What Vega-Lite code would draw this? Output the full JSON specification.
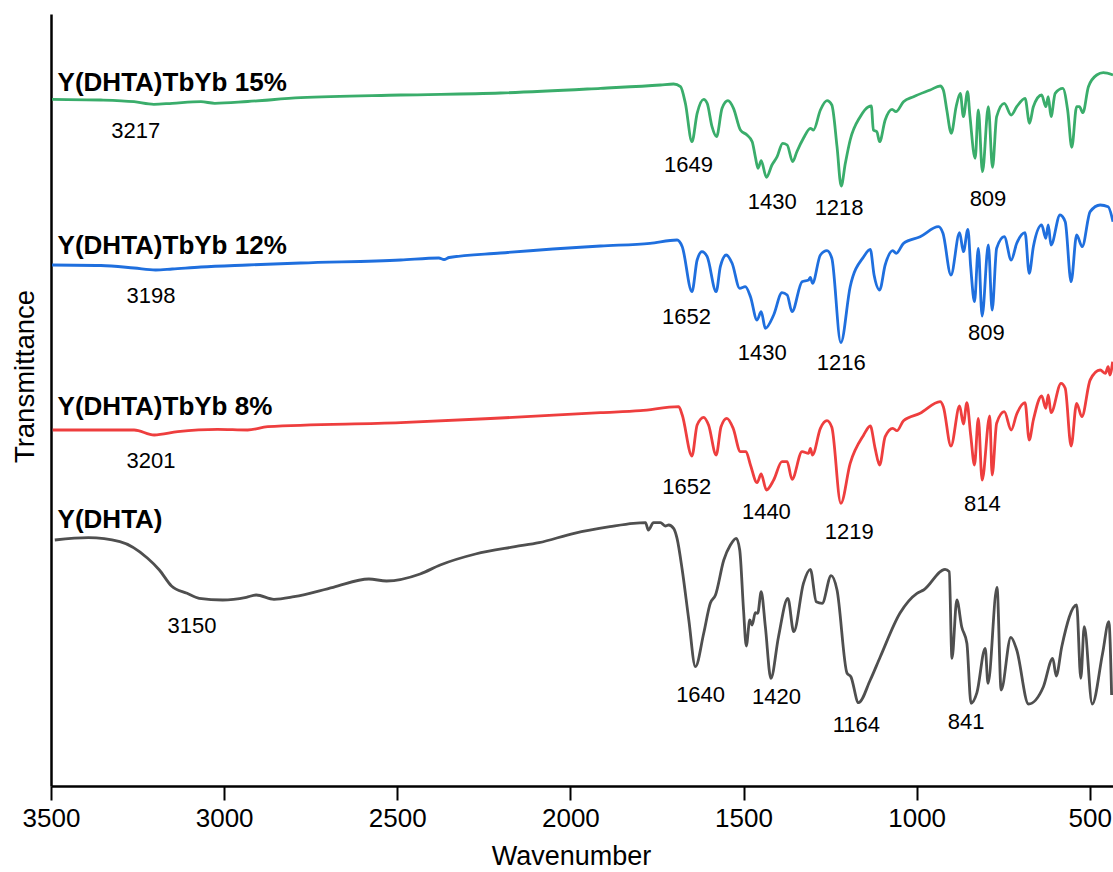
{
  "$schema": "https://vega.github.io/schema/vega-lite/v6.json",
  "width": 1062,
  "height": 772,
  "autosize": "none",
  "padding": {"left": 51, "top": 14, "right": 0, "bottom": 86},
  "background": "white",
  "config": {
    "font": "Liberation Sans",
    "view": {"stroke": null}
  },
  "datasets": {
    "spectra": [
      {"series":"15%","wn":3497,"t":685.7},{"series":"15%","wn":3356,"t":685},{"series":"15%","wn":3260,"t":683.3},{"series":"15%","wn":3203,"t":680.7},{"series":"15%","wn":3150,"t":681.7},{"series":"15%","wn":3067,"t":683.3},{"series":"15%","wn":3027,"t":681.7},{"series":"15%","wn":2932,"t":683.5},{"series":"15%","wn":2779,"t":687.3},{"series":"15%","wn":2490,"t":690},{"series":"15%","wn":2202,"t":692},{"series":"15%","wn":1913,"t":696.7},{"series":"15%","wn":1740,"t":700},{"series":"15%","wn":1702,"t":701},{"series":"15%","wn":1682,"t":698.3},{"series":"15%","wn":1668,"t":681.7},{"series":"15%","wn":1649,"t":643.3},{"series":"15%","wn":1634,"t":671.7},{"series":"15%","wn":1615,"t":685.7},{"series":"15%","wn":1605,"t":681.7},{"series":"15%","wn":1591,"t":658.3},{"series":"15%","wn":1578,"t":648.3},{"series":"15%","wn":1562,"t":676.7},{"series":"15%","wn":1545,"t":684.3},{"series":"15%","wn":1529,"t":676.7},{"series":"15%","wn":1509,"t":655},{"series":"15%","wn":1490,"t":650},{"series":"15%","wn":1475,"t":643.3},{"series":"15%","wn":1466,"t":628.3},{"series":"15%","wn":1458,"t":616.7},{"series":"15%","wn":1449,"t":624.3},{"series":"15%","wn":1434,"t":607.7},{"series":"15%","wn":1418,"t":620},{"series":"15%","wn":1403,"t":628.3},{"series":"15%","wn":1387,"t":641.7},{"series":"15%","wn":1374,"t":640},{"series":"15%","wn":1358,"t":623.3},{"series":"15%","wn":1346,"t":633.3},{"series":"15%","wn":1327,"t":646.7},{"series":"15%","wn":1307,"t":656.7},{"series":"15%","wn":1298,"t":655},{"series":"15%","wn":1278,"t":675},{"series":"15%","wn":1259,"t":684.3},{"series":"15%","wn":1245,"t":680},{"series":"15%","wn":1230,"t":638.3},{"series":"15%","wn":1218,"t":599},{"series":"15%","wn":1206,"t":621.7},{"series":"15%","wn":1192,"t":645},{"series":"15%","wn":1163,"t":668.3},{"series":"15%","wn":1139,"t":678.3},{"series":"15%","wn":1131,"t":679},{"series":"15%","wn":1125,"t":655},{"series":"15%","wn":1115,"t":653.3},{"series":"15%","wn":1107,"t":643.3},{"series":"15%","wn":1091,"t":665},{"series":"15%","wn":1071,"t":675.7},{"series":"15%","wn":1060,"t":673.3},{"series":"15%","wn":1038,"t":683.3},{"series":"15%","wn":1009,"t":688.3},{"series":"15%","wn":961,"t":695},{"series":"15%","wn":932,"t":699},{"series":"15%","wn":923,"t":695},{"series":"15%","wn":913,"t":675},{"series":"15%","wn":900,"t":651.7},{"series":"15%","wn":886,"t":678.3},{"series":"15%","wn":874,"t":691.7},{"series":"15%","wn":865,"t":668.3},{"series":"15%","wn":853,"t":693.3},{"series":"15%","wn":846,"t":668.3},{"series":"15%","wn":831,"t":626.7},{"series":"15%","wn":822,"t":675},{"series":"15%","wn":810,"t":613.3},{"series":"15%","wn":793,"t":678.3},{"series":"15%","wn":781,"t":617.7},{"series":"15%","wn":769,"t":668.3},{"series":"15%","wn":747,"t":681.7},{"series":"15%","wn":727,"t":670},{"series":"15%","wn":711,"t":678.3},{"series":"15%","wn":687,"t":686.7},{"series":"15%","wn":674,"t":661.7},{"series":"15%","wn":663,"t":678.3},{"series":"15%","wn":639,"t":690},{"series":"15%","wn":627,"t":678.3},{"series":"15%","wn":620,"t":688.3},{"series":"15%","wn":612,"t":668.3},{"series":"15%","wn":600,"t":691.7},{"series":"15%","wn":578,"t":696.7},{"series":"15%","wn":564,"t":675},{"series":"15%","wn":552,"t":637.7},{"series":"15%","wn":538,"t":678.3},{"series":"15%","wn":530,"t":678.3},{"series":"15%","wn":520,"t":672.3},{"series":"15%","wn":504,"t":698.3},{"series":"15%","wn":480,"t":710},{"series":"15%","wn":461,"t":712.3},{"series":"15%","wn":433,"t":710},

      {"series":"12%","wn":3497,"t":520},{"series":"12%","wn":3356,"t":519.5},{"series":"12%","wn":3260,"t":517},{"series":"12%","wn":3198,"t":515},{"series":"12%","wn":3150,"t":516},{"series":"12%","wn":3067,"t":518},{"series":"12%","wn":2932,"t":520},{"series":"12%","wn":2779,"t":522},{"series":"12%","wn":2490,"t":525},{"series":"12%","wn":2380,"t":527},{"series":"12%","wn":2365,"t":525.5},{"series":"12%","wn":2350,"t":527.5},{"series":"12%","wn":2202,"t":532},{"series":"12%","wn":1913,"t":539},{"series":"12%","wn":1770,"t":541.7},{"series":"12%","wn":1692,"t":545},{"series":"12%","wn":1677,"t":538.3},{"series":"12%","wn":1649,"t":493.3},{"series":"12%","wn":1634,"t":525},{"series":"12%","wn":1620,"t":533.3},{"series":"12%","wn":1605,"t":528.3},{"series":"12%","wn":1579,"t":493.3},{"series":"12%","wn":1567,"t":518.3},{"series":"12%","wn":1550,"t":530},{"series":"12%","wn":1533,"t":521.7},{"series":"12%","wn":1511,"t":496.7},{"series":"12%","wn":1495,"t":498.3},{"series":"12%","wn":1480,"t":488.3},{"series":"12%","wn":1461,"t":465},{"series":"12%","wn":1449,"t":473.3},{"series":"12%","wn":1437,"t":456.7},{"series":"12%","wn":1413,"t":470},{"series":"12%","wn":1389,"t":492.3},{"series":"12%","wn":1374,"t":490},{"series":"12%","wn":1360,"t":473.3},{"series":"12%","wn":1331,"t":503.3},{"series":"12%","wn":1312,"t":505},{"series":"12%","wn":1307,"t":507.7},{"series":"12%","wn":1301,"t":501.7},{"series":"12%","wn":1278,"t":530},{"series":"12%","wn":1259,"t":534.3},{"series":"12%","wn":1245,"t":526.7},{"series":"12%","wn":1219,"t":442.3},{"series":"12%","wn":1192,"t":498.3},{"series":"12%","wn":1153,"t":528.3},{"series":"12%","wn":1134,"t":535.7},{"series":"12%","wn":1123,"t":510},{"series":"12%","wn":1107,"t":495},{"series":"12%","wn":1091,"t":520},{"series":"12%","wn":1069,"t":534.3},{"series":"12%","wn":1059,"t":531.7},{"series":"12%","wn":1038,"t":541.7},{"series":"12%","wn":990,"t":548.3},{"series":"12%","wn":937,"t":558.3},{"series":"12%","wn":924,"t":551.7},{"series":"12%","wn":901,"t":510},{"series":"12%","wn":876,"t":552.3},{"series":"12%","wn":865,"t":533.3},{"series":"12%","wn":852,"t":555.7},{"series":"12%","wn":844,"t":518.3},{"series":"12%","wn":833,"t":483.3},{"series":"12%","wn":822,"t":536.7},{"series":"12%","wn":811,"t":469},{"series":"12%","wn":793,"t":540},{"series":"12%","wn":782,"t":475},{"series":"12%","wn":769,"t":536.7},{"series":"12%","wn":747,"t":548.3},{"series":"12%","wn":727,"t":525},{"series":"12%","wn":711,"t":541.7},{"series":"12%","wn":687,"t":552.3},{"series":"12%","wn":675,"t":511.7},{"series":"12%","wn":663,"t":538.3},{"series":"12%","wn":639,"t":560},{"series":"12%","wn":627,"t":546.7},{"series":"12%","wn":620,"t":560},{"series":"12%","wn":612,"t":540},{"series":"12%","wn":586,"t":570},{"series":"12%","wn":571,"t":563.3},{"series":"12%","wn":554,"t":503.3},{"series":"12%","wn":538,"t":550},{"series":"12%","wn":522,"t":538.3},{"series":"12%","wn":499,"t":573.3},{"series":"12%","wn":470,"t":580},{"series":"12%","wn":447,"t":578.3},{"series":"12%","wn":433,"t":563.3},

      {"series":"8%","wn":3495,"t":355},{"series":"8%","wn":3260,"t":355},{"series":"8%","wn":3202,"t":350},{"series":"8%","wn":3134,"t":353.3},{"series":"8%","wn":3019,"t":355.7},{"series":"8%","wn":2932,"t":355},{"series":"8%","wn":2874,"t":358.3},{"series":"8%","wn":2490,"t":362.3},{"series":"8%","wn":2202,"t":367},{"series":"8%","wn":1913,"t":372.3},{"series":"8%","wn":1798,"t":374.3},{"series":"8%","wn":1687,"t":378.3},{"series":"8%","wn":1677,"t":370},{"series":"8%","wn":1649,"t":329},{"series":"8%","wn":1634,"t":360},{"series":"8%","wn":1615,"t":367.7},{"series":"8%","wn":1601,"t":360},{"series":"8%","wn":1579,"t":330},{"series":"8%","wn":1565,"t":358.3},{"series":"8%","wn":1548,"t":366.7},{"series":"8%","wn":1530,"t":356.7},{"series":"8%","wn":1509,"t":333.3},{"series":"8%","wn":1493,"t":333.3},{"series":"8%","wn":1480,"t":320},{"series":"8%","wn":1461,"t":302.3},{"series":"8%","wn":1449,"t":311},{"series":"8%","wn":1434,"t":295},{"series":"8%","wn":1413,"t":305},{"series":"8%","wn":1389,"t":323.3},{"series":"8%","wn":1374,"t":323.3},{"series":"8%","wn":1360,"t":305.7},{"series":"8%","wn":1331,"t":333.3},{"series":"8%","wn":1312,"t":331.7},{"series":"8%","wn":1307,"t":336.7},{"series":"8%","wn":1301,"t":330},{"series":"8%","wn":1278,"t":356.7},{"series":"8%","wn":1259,"t":364.3},{"series":"8%","wn":1245,"t":357.7},{"series":"8%","wn":1219,"t":281.7},{"series":"8%","wn":1192,"t":321.7},{"series":"8%","wn":1153,"t":350},{"series":"8%","wn":1134,"t":359},{"series":"8%","wn":1120,"t":336.7},{"series":"8%","wn":1107,"t":320},{"series":"8%","wn":1091,"t":348.3},{"series":"8%","wn":1069,"t":356.7},{"series":"8%","wn":1057,"t":354.3},{"series":"8%","wn":1038,"t":364.3},{"series":"8%","wn":990,"t":371.7},{"series":"8%","wn":932,"t":383.3},{"series":"8%","wn":923,"t":378.3},{"series":"8%","wn":901,"t":339},{"series":"8%","wn":876,"t":379},{"series":"8%","wn":865,"t":361},{"series":"8%","wn":855,"t":382.3},{"series":"8%","wn":844,"t":350},{"series":"8%","wn":833,"t":320},{"series":"8%","wn":822,"t":366.7},{"series":"8%","wn":811,"t":305},{"series":"8%","wn":789,"t":369},{"series":"8%","wn":782,"t":310},{"series":"8%","wn":769,"t":361.7},{"series":"8%","wn":747,"t":373.3},{"series":"8%","wn":727,"t":355},{"series":"8%","wn":711,"t":371},{"series":"8%","wn":687,"t":382.3},{"series":"8%","wn":675,"t":345},{"series":"8%","wn":663,"t":365},{"series":"8%","wn":639,"t":389},{"series":"8%","wn":627,"t":376.7},{"series":"8%","wn":620,"t":390},{"series":"8%","wn":612,"t":372.3},{"series":"8%","wn":583,"t":401.7},{"series":"8%","wn":571,"t":396.7},{"series":"8%","wn":554,"t":339},{"series":"8%","wn":538,"t":381.7},{"series":"8%","wn":523,"t":368.3},{"series":"8%","wn":499,"t":405},{"series":"8%","wn":470,"t":415},{"series":"8%","wn":455,"t":411.7},{"series":"8%","wn":447,"t":418.3},{"series":"8%","wn":442,"t":410},{"series":"8%","wn":434,"t":423.3},

      {"series":"0","wn":3489,"t":245},{"series":"0","wn":3392,"t":247.3},{"series":"0","wn":3301,"t":243.3},{"series":"0","wn":3221,"t":226.7},{"series":"0","wn":3187,"t":215},{"series":"0","wn":3152,"t":199},{"series":"0","wn":3107,"t":191.7},{"series":"0","wn":3072,"t":186.7},{"series":"0","wn":3004,"t":185},{"series":"0","wn":2936,"t":187.7},{"series":"0","wn":2907,"t":190},{"series":"0","wn":2856,"t":185.7},{"series":"0","wn":2798,"t":188.3},{"series":"0","wn":2685,"t":197.7},{"series":"0","wn":2582,"t":206},{"series":"0","wn":2531,"t":204},{"series":"0","wn":2434,"t":211},{"series":"0","wn":2376,"t":220},{"series":"0","wn":2274,"t":231},{"series":"0","wn":2160,"t":238.3},{"series":"0","wn":2091,"t":242.3},{"series":"0","wn":1989,"t":251.7},{"series":"0","wn":1886,"t":258.3},{"series":"0","wn":1818,"t":261.7},{"series":"0","wn":1783,"t":262.3},{"series":"0","wn":1775,"t":255},{"series":"0","wn":1760,"t":262.3},{"series":"0","wn":1740,"t":262.3},{"series":"0","wn":1726,"t":259},{"series":"0","wn":1716,"t":260},{"series":"0","wn":1702,"t":256.7},{"series":"0","wn":1692,"t":246.7},{"series":"0","wn":1677,"t":215},{"series":"0","wn":1658,"t":165},{"series":"0","wn":1639,"t":118.3},{"series":"0","wn":1615,"t":151.7},{"series":"0","wn":1596,"t":181.7},{"series":"0","wn":1581,"t":190},{"series":"0","wn":1557,"t":225},{"series":"0","wn":1538,"t":240},{"series":"0","wn":1521,"t":246.7},{"series":"0","wn":1511,"t":235},{"series":"0","wn":1500,"t":175},{"series":"0","wn":1492,"t":139},{"series":"0","wn":1482,"t":165},{"series":"0","wn":1475,"t":160},{"series":"0","wn":1466,"t":172.3},{"series":"0","wn":1459,"t":171.7},{"series":"0","wn":1449,"t":193.3},{"series":"0","wn":1437,"t":158.3},{"series":"0","wn":1421,"t":106.7},{"series":"0","wn":1399,"t":148.3},{"series":"0","wn":1372,"t":186.7},{"series":"0","wn":1355,"t":153.3},{"series":"0","wn":1327,"t":201.7},{"series":"0","wn":1307,"t":215.7},{"series":"0","wn":1290,"t":183.3},{"series":"0","wn":1273,"t":181.7},{"series":"0","wn":1247,"t":209.3},{"series":"0","wn":1230,"t":195},{"series":"0","wn":1201,"t":111.7},{"series":"0","wn":1190,"t":108.3},{"series":"0","wn":1168,"t":82.3},{"series":"0","wn":1134,"t":105},{"series":"0","wn":1105,"t":128.3},{"series":"0","wn":1048,"t":172},{"series":"0","wn":999,"t":191.7},{"series":"0","wn":980,"t":195},{"series":"0","wn":918,"t":215.7},{"series":"0","wn":906,"t":213.3},{"series":"0","wn":898,"t":126.7},{"series":"0","wn":884,"t":185},{"series":"0","wn":870,"t":158.3},{"series":"0","wn":855,"t":141.7},{"series":"0","wn":843,"t":81.7},{"series":"0","wn":826,"t":92.3},{"series":"0","wn":802,"t":136.7},{"series":"0","wn":794,"t":101.7},{"series":"0","wn":768,"t":197.7},{"series":"0","wn":756,"t":95},{"series":"0","wn":728,"t":147.7},{"series":"0","wn":711,"t":135},{"series":"0","wn":677,"t":81},{"series":"0","wn":634,"t":98.3},{"series":"0","wn":607,"t":126.7},{"series":"0","wn":597,"t":109},{"series":"0","wn":581,"t":138.3},{"series":"0","wn":538,"t":180},{"series":"0","wn":526,"t":106.7},{"series":"0","wn":516,"t":158.3},{"series":"0","wn":493,"t":81},{"series":"0","wn":463,"t":131.7},{"series":"0","wn":445,"t":163.3},{"series":"0","wn":437,"t":90}
    ],
    "peaks": [
      {"label":"3217","wn":3255,"t":654.5},{"label":"1649","wn":1659,"t":620},{"label":"1430","wn":1417,"t":583},{"label":"1218","wn":1224,"t":577},{"label":"809","wn":794,"t":586},
      {"label":"3198","wn":3211,"t":489},{"label":"1652","wn":1665,"t":468},{"label":"1430","wn":1446,"t":432},{"label":"1216","wn":1218,"t":422},{"label":"809","wn":799,"t":452.5},
      {"label":"3201","wn":3211,"t":324},{"label":"1652","wn":1664,"t":298},{"label":"1440","wn":1434,"t":273},{"label":"1219","wn":1195,"t":253},{"label":"814","wn":810,"t":281},
      {"label":"3150","wn":3093,"t":159.5},{"label":"1640","wn":1624,"t":90},{"label":"1420","wn":1405,"t":88.5},{"label":"1164","wn":1174,"t":60},{"label":"841","wn":857,"t":63}
    ],
    "names": [
      {"name":"Y(DHTA)TbYb 15%","wn":3481,"t":694.5},
      {"name":"Y(DHTA)TbYb 12%","wn":3481,"t":531},
      {"name":"Y(DHTA)TbYb 8%","wn":3481,"t":370},
      {"name":"Y(DHTA)","wn":3481,"t":256.7}
    ]
  },
  "layer": [
    {
      "mark": {"type": "rule", "color": "black", "strokeWidth": 2.5},
      "encoding": {"y": {"datum": 771, "type": "quantitative"}}
    },
    {
      "data": {"name": "spectra"},
      "mark": {"type": "line", "strokeWidth": 2.8, "clip": true, "interpolate": "monotone"},
      "encoding": {
        "x": {
          "field": "wn", "type": "quantitative",
          "scale": {"domain": [433, 3500], "reverse": true, "nice": false, "zero": false},
          "axis": {
            "title": "Wavenumber", "values": [3500, 3000, 2500, 2000, 1500, 1000, 500], "format": "d",
            "grid": false, "domainColor": "black", "domainWidth": 2.5,
            "tickColor": "black", "tickWidth": 2, "tickSize": 14,
            "labelFontSize": 26, "labelColor": "black", "labelPadding": 5, "labelFlush": false,
            "titleFontSize": 27, "titleFontWeight": "normal", "titleColor": "black",
            "titleX": 520, "titleY": 78, "titleBaseline": "alphabetic"
          }
        },
        "y": {
          "field": "t", "type": "quantitative",
          "scale": {"domain": [-1, 771], "nice": false, "zero": false},
          "axis": {
            "title": "Transmittance", "labels": false, "ticks": false, "grid": false,
            "domainColor": "black", "domainWidth": 2.5,
            "titleFontSize": 27.5, "titleFontWeight": "normal", "titleColor": "black",
            "titleX": -18, "titleY": 362, "titleBaseline": "alphabetic", "titleAngle": 270
          }
        },
        "color": {
          "field": "series", "type": "nominal", "legend": null,
          "scale": {"domain": ["15%", "12%", "8%", "0"], "range": ["#3AAD6B", "#1F6FDE", "#EE3E3E", "#4F4F4F"]}
        }
      }
    },
    {
      "data": {"name": "peaks"},
      "mark": {"type": "text", "fontSize": 22, "color": "black", "align": "center", "baseline": "middle"},
      "encoding": {
        "x": {"field": "wn", "type": "quantitative", "title": "Wavenumber"},
        "y": {"field": "t", "type": "quantitative", "title": "Transmittance"},
        "text": {"field": "label"}
      }
    },
    {
      "data": {"name": "names"},
      "mark": {"type": "text", "fontSize": 26, "fontWeight": "bold", "color": "black", "align": "left", "baseline": "alphabetic"},
      "encoding": {
        "x": {"field": "wn", "type": "quantitative", "title": "Wavenumber"},
        "y": {"field": "t", "type": "quantitative", "title": "Transmittance"},
        "text": {"field": "name"}
      }
    }
  ]
}
